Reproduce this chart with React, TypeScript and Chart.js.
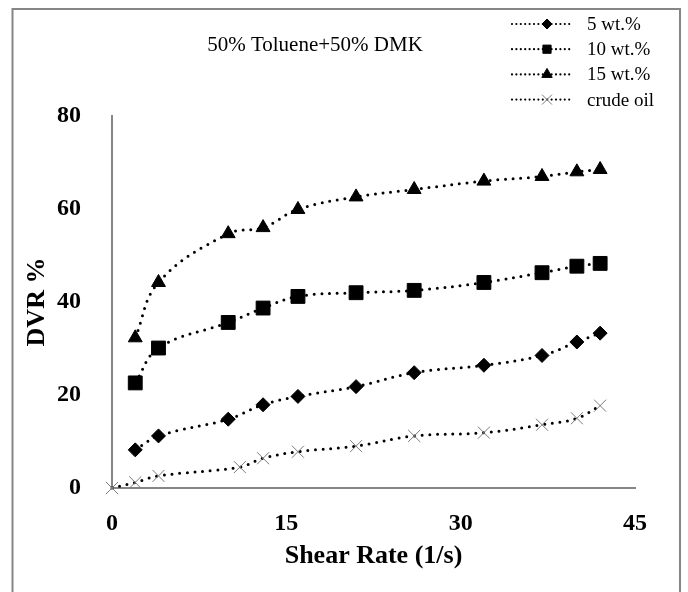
import React, { useEffect, useRef } from "react";
import { Chart, registerables } from "chart.js";

Chart.register(...registerables);

// Shear rates (1/s) at which drag reduction was measured
const shearRate = [2, 4, 10, 13, 16, 21, 26, 32, 37, 40, 42];
const crudeShearRate = [0, 2, 4, 11, 13, 16, 21, 26, 32, 37, 40, 42];

// Drag viscosity reduction (%) per additive concentration
const dvr5 = [8.2, 11.2, 14.8, 17.9, 19.7, 21.8, 24.8, 26.4, 28.5, 31.4, 33.3];
const dvr10 = [22.6, 30.1, 35.6, 38.7, 41.2, 42.0, 42.5, 44.2, 46.3, 47.7, 48.3];
const dvr15 = [32.3, 44.2, 54.7, 56.0, 59.9, 62.6, 64.2, 66.0, 67.0, 68.0, 68.5];
const dvrCrude = [0, 1.2, 2.6, 4.5, 6.4, 7.8, 9.0, 11.2, 11.9, 13.6, 15.0, 17.7];

const seriesLabels = ["5 wt.%", "10 wt.%", "15 wt.%", "crude oil"];
const xTickValues = [0, 15, 30, 45];
const yTickValues = [0, 20, 40, 60, 80];

const chartTitle = "50% Toluene+50% DMK";
const xTitle = "Shear Rate (1/s)";
const yTitle = "DVR %";

const SERIF = "'Liberation Serif', 'Times New Roman', Times, serif";
const AXIS_GRAY = "#868686";

type MarkerStyle = {
  shape: "rectRot" | "rect" | "triangle" | "crossRot";
  radius: number;
  legendRadius: number;
  fill: string;
  stroke: string;
  strokeWidth: number;
};

const markers: MarkerStyle[] = [
  { shape: "rectRot", radius: 7, legendRadius: 5, fill: "#000", stroke: "#000", strokeWidth: 1 },
  { shape: "rect", radius: 9.8, legendRadius: 5.8, fill: "#000", stroke: "#000", strokeWidth: 1 },
  { shape: "triangle", radius: 8, legendRadius: 6, fill: "#000", stroke: "#000", strokeWidth: 1 },
  { shape: "crossRot", radius: 8.5, legendRadius: 7, fill: "rgba(0,0,0,0)", stroke: "#7a7a7a", strokeWidth: 1 },
];

function drawMarker(ctx: CanvasRenderingContext2D, m: MarkerStyle, x: number, y: number, r: number) {
  ctx.save();
  ctx.fillStyle = m.fill;
  ctx.strokeStyle = m.stroke;
  ctx.lineWidth = m.strokeWidth;
  ctx.setLineDash([]);
  ctx.beginPath();
  if (m.shape === "rectRot") {
    ctx.moveTo(x, y - r);
    ctx.lineTo(x + r, y);
    ctx.lineTo(x, y + r);
    ctx.lineTo(x - r, y);
    ctx.closePath();
    ctx.fill();
    ctx.stroke();
  } else if (m.shape === "rect") {
    const s = Math.SQRT1_2 * r;
    ctx.rect(x - s, y - s, 2 * s, 2 * s);
    ctx.fill();
    ctx.stroke();
  } else if (m.shape === "triangle") {
    for (let i = 0; i < 3; i++) {
      const a = -Math.PI / 2 + (i * 2 * Math.PI) / 3;
      const px = x + Math.cos(a) * r;
      const py = y + Math.sin(a) * r;
      if (i === 0) ctx.moveTo(px, py);
      else ctx.lineTo(px, py);
    }
    ctx.closePath();
    ctx.fill();
    ctx.stroke();
  } else {
    const d = Math.SQRT1_2 * r;
    ctx.moveTo(x - d, y - d);
    ctx.lineTo(x + d, y + d);
    ctx.moveTo(x + d, y - d);
    ctx.lineTo(x - d, y + d);
    ctx.stroke();
  }
  ctx.restore();
}

// Frame, title and legend drawn around the plot
const decorations = {
  id: "decorations",
  beforeDraw(chart: Chart) {
    const ctx = chart.ctx;
    ctx.save();
    ctx.fillStyle = "#fff";
    ctx.fillRect(0, 0, chart.width, chart.height);
    ctx.restore();
  },
  afterDraw(chart: Chart) {
    const ctx = chart.ctx;
    ctx.save();
    // outer frame
    ctx.strokeStyle = AXIS_GRAY;
    ctx.lineWidth = 2;
    ctx.strokeRect(12.5, 9, 667.5, 600);

    // title
    ctx.fillStyle = "#000";
    ctx.font = `21px ${SERIF}`;
    ctx.textAlign = "center";
    ctx.textBaseline = "middle";
    ctx.fillText(chartTitle, 315, 45);

    // legend
    ctx.font = `19px ${SERIF}`;
    ctx.textAlign = "left";
    seriesLabels.forEach((label, i) => {
      const y = 24 + i * 25.2;
      ctx.save();
      ctx.strokeStyle = "#000";
      ctx.lineWidth = 2.2;
      ctx.lineCap = "round";
      ctx.setLineDash([0, 4.4]);
      ctx.beginPath();
      ctx.moveTo(512, y);
      ctx.lineTo(573, y);
      ctx.stroke();
      ctx.restore();
      drawMarker(ctx, markers[i], 547, y, markers[i].legendRadius);
      ctx.fillStyle = "#000";
      ctx.fillText(label, 587, y + 1);
    });
    ctx.restore();
  },
};

function makeDataset(label: string, xs: number[], ys: number[], m: MarkerStyle) {
  return {
    label,
    data: xs.map((x, i) => ({ x, y: ys[i] })),
    borderColor: "#000",
    borderWidth: 3,
    borderDash: [0, 7.7],
    borderCapStyle: "round" as const,
    tension: 0.4,
    fill: false,
    clip: false as const,
    pointStyle: m.shape as any,
    pointRadius: m.radius,
    pointHoverRadius: m.radius,
    pointBackgroundColor: m.fill,
    pointBorderColor: m.stroke,
    pointBorderWidth: m.strokeWidth,
  };
}

export default function App() {
  const canvasRef = useRef<HTMLCanvasElement | null>(null);

  useEffect(() => {
    document.body.style.margin = "0";
    const canvas = canvasRef.current;
    if (!canvas) return;

    const tickFont = { family: SERIF, size: 24, weight: "bold" as const };
    const titleFont = { family: SERIF, size: 26, weight: "bold" as const };

    const chart = new Chart(canvas, {
      type: "line",
      data: {
        datasets: [
          makeDataset(seriesLabels[0], shearRate, dvr5, markers[0]),
          makeDataset(seriesLabels[1], shearRate, dvr10, markers[1]),
          makeDataset(seriesLabels[2], shearRate, dvr15, markers[2]),
          makeDataset(seriesLabels[3], crudeShearRate, dvrCrude, markers[3]),
        ],
      },
      options: {
        responsive: false,
        animation: false,
        devicePixelRatio: 1,
        layout: { padding: { top: 116, right: 53, bottom: 0, left: 0 } },
        plugins: {
          legend: { display: false },
          title: { display: false },
          tooltip: { enabled: false },
        },
        scales: {
          x: {
            type: "linear",
            min: 0,
            max: 45,
            afterBuildTicks: (scale: any) => {
              scale.ticks = xTickValues.map((v) => ({ value: v }));
            },
            afterFit: (scale: any) => {
              scale.height = 104;
            },
            grid: { display: false },
            border: { display: true, color: AXIS_GRAY, width: 2 },
            ticks: { color: "#000", font: tickFont, padding: 13, maxRotation: 0 },
            title: {
              display: true,
              text: xTitle,
              color: "#000",
              font: titleFont,
              padding: { top: 0, bottom: 20 },
            },
          },
          y: {
            type: "linear",
            min: 0,
            max: 80,
            afterBuildTicks: (scale: any) => {
              scale.ticks = yTickValues.map((v) => ({ value: v }));
            },
            afterFit: (scale: any) => {
              scale.width = 112;
            },
            grid: { display: false },
            border: { display: true, color: AXIS_GRAY, width: 2 },
            ticks: { color: "#000", font: tickFont, padding: 23 },
            title: {
              display: true,
              text: yTitle,
              color: "#000",
              font: titleFont,
              padding: { top: 22, bottom: 0 },
            },
          },
        },
      },
      plugins: [decorations],
    });

    return () => chart.destroy();
  }, []);

  return (
    <div style={{ width: 688, height: 592 }}>
      <canvas ref={canvasRef} width={688} height={592} style={{ display: "block", width: 688, height: 592 }} />
    </div>
  );
}
